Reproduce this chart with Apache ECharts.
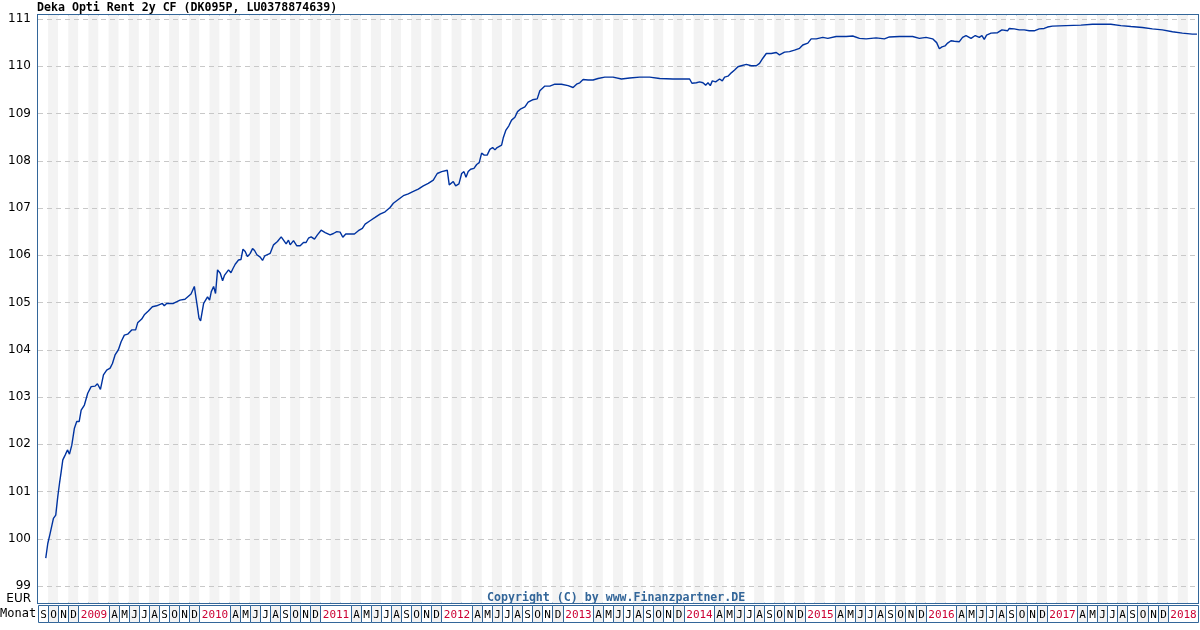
<!DOCTYPE html>
<html>
<head>
<meta charset="utf-8">
<title>Deka Opti Rent 2y CF</title>
<script src="https://cdn.jsdelivr.net/npm/echarts@6/dist/echarts.min.js"></script>
<style>
  html, body { margin: 0; padding: 0; background: #fff; }
  #main { width: 1200px; height: 630px; }
</style>
</head>
<body>
<div id="main"></div>
<script>
// x = Monate seit Anfang Sep 2008, y = Kurs in EUR
const months = [
  0.77, 0.97, 1.21, 1.53, 1.76, 1.96, 2.13, 2.30, 2.46, 2.69, 2.92, 3.12, 3.35, 3.61, 3.84, 4.08,
  4.28, 4.60, 4.93, 5.27, 5.66, 5.89, 6.19, 6.49, 6.81, 7.15, 7.38, 7.64, 7.97, 8.24, 8.56, 8.89,
  9.29, 9.68, 9.88, 10.28, 10.54, 10.94, 11.34, 11.76, 11.93, 12.33, 12.52, 12.75, 13.42, 13.58, 14.08, 14.57,
  14.73, 15.17, 15.33, 15.50, 15.62, 15.82, 15.96, 16.12, 16.42, 16.81, 17.01, 17.18, 17.41, 17.60, 17.80, 18.07,
  18.30, 18.50, 18.89, 19.13, 19.33, 19.55, 19.88, 20.12, 20.32, 20.54, 20.77, 21.04, 21.27, 21.47, 21.70, 22.03,
  22.26, 22.46, 22.69, 23.02, 23.35, 23.74, 24.11, 24.34, 24.60, 24.83, 25.00, 25.33, 25.66, 25.99, 26.32, 26.58,
  26.81, 27.08, 27.41, 27.70, 28.07, 28.47, 28.96, 29.29, 29.62, 29.95, 30.22, 30.51, 30.94, 31.37, 31.76, 32.16,
  32.43, 32.92, 33.42, 33.91, 34.41, 34.90, 35.23, 35.72, 36.22, 36.71, 37.21, 37.70, 38.20, 38.69, 39.19, 39.58,
  40.02, 40.57, 40.77, 41.17, 41.41, 41.73, 42.00, 42.23, 42.43, 42.65, 42.89, 43.22, 43.49, 43.74, 43.98, 44.24,
  44.53, 44.80, 45.07, 45.30, 45.52, 45.96, 46.12, 46.39, 46.68, 46.95, 47.28, 47.54, 47.87, 48.27, 48.59, 49.03,
  49.49, 49.75, 50.25, 50.74, 51.24, 51.90, 52.55, 53.05, 53.39, 53.71, 54.04, 54.53, 55.03, 55.52, 56.19, 57.01,
  57.84, 58.66, 59.65, 60.64, 61.63, 62.95, 64.60, 64.83, 65.27, 65.59, 65.92, 66.19, 66.42, 66.65, 66.85, 67.18,
  67.57, 67.84, 68.07, 68.40, 68.73, 69.06, 69.39, 69.72, 70.22, 70.71, 71.21, 71.53, 71.86, 72.20, 72.69, 73.19,
  73.51, 74.01, 74.50, 75.00, 75.50, 75.82, 76.32, 76.65, 77.15, 77.80, 78.30, 79.13, 80.12, 80.77, 81.44, 82.10,
  83.09, 83.91, 84.41, 85.40, 86.71, 87.38, 88.04, 88.69, 89.09, 89.36, 89.62, 89.92, 90.18, 90.51, 90.84, 91.34,
  91.66, 92.00, 92.50, 92.92, 93.32, 93.58, 93.81, 94.04, 94.48, 95.13, 95.56, 96.12, 96.29, 96.78, 97.28, 97.77,
  98.27, 98.76, 99.26, 99.75, 100.08, 100.57, 101.90, 103.39, 104.53, 106.36, 107.35, 108.34, 109.49, 110.48, 111.47, 112.47,
  113.45, 114.44, 114.90
]
const prices = [
  99.59, 99.90, 100.12, 100.43, 100.50, 100.89, 101.17, 101.42, 101.67, 101.77, 101.88, 101.79, 101.98, 102.34, 102.48, 102.48,
  102.72, 102.83, 103.08, 103.22, 103.23, 103.28, 103.16, 103.47, 103.57, 103.61, 103.71, 103.89, 104.00, 104.17, 104.31, 104.33,
  104.42, 104.42, 104.57, 104.65, 104.74, 104.82, 104.91, 104.93, 104.97, 104.98, 104.93, 104.98, 104.98, 105.02, 105.05, 105.07,
  105.11, 105.18, 105.21, 105.34, 105.16, 104.88, 104.67, 104.61, 104.98, 105.12, 105.05, 105.23, 105.34, 105.19, 105.69, 105.62,
  105.46, 105.58, 105.69, 105.63, 105.72, 105.81, 105.90, 105.91, 106.13, 106.08, 105.97, 106.04, 106.14, 106.10, 106.01, 105.96,
  105.89, 105.98, 106.01, 106.04, 106.22, 106.29, 106.39, 106.32, 106.24, 106.32, 106.22, 106.31, 106.20, 106.20, 106.27, 106.27,
  106.36, 106.39, 106.34, 106.43, 106.53, 106.48, 106.43, 106.46, 106.50, 106.49, 106.38, 106.45, 106.45, 106.45, 106.52, 106.57,
  106.66, 106.73, 106.80, 106.87, 106.92, 107.01, 107.10, 107.18, 107.26, 107.30, 107.35, 107.40, 107.47, 107.52, 107.59, 107.73,
  107.77, 107.80, 107.49, 107.56, 107.47, 107.51, 107.73, 107.77, 107.65, 107.77, 107.82, 107.84, 107.92, 107.96, 108.16, 108.12,
  108.12, 108.24, 108.28, 108.23, 108.28, 108.33, 108.48, 108.65, 108.74, 108.86, 108.92, 109.04, 109.10, 109.14, 109.24, 109.29,
  109.31, 109.48, 109.58, 109.58, 109.62, 109.62, 109.59, 109.55, 109.62, 109.65, 109.72, 109.71, 109.71, 109.74, 109.77, 109.77,
  109.73, 109.75, 109.77, 109.77, 109.74, 109.73, 109.73, 109.64, 109.65, 109.67, 109.65, 109.60, 109.65, 109.59, 109.69, 109.67,
  109.73, 109.69, 109.77, 109.79, 109.86, 109.92, 109.99, 110.01, 110.04, 110.01, 110.01, 110.06, 110.17, 110.27, 110.27, 110.29,
  110.24, 110.30, 110.31, 110.34, 110.38, 110.45, 110.49, 110.58, 110.58, 110.61, 110.59, 110.63, 110.63, 110.64, 110.59, 110.58,
  110.60, 110.58, 110.62, 110.63, 110.63, 110.59, 110.61, 110.58, 110.50, 110.37, 110.41, 110.43, 110.49, 110.54, 110.53, 110.52,
  110.61, 110.65, 110.59, 110.65, 110.61, 110.65, 110.57, 110.66, 110.70, 110.71, 110.77, 110.75, 110.80, 110.79, 110.77, 110.77,
  110.75, 110.75, 110.79, 110.80, 110.83, 110.85, 110.86, 110.87, 110.89, 110.89, 110.86, 110.84, 110.82, 110.79, 110.77, 110.73,
  110.70, 110.68, 110.68
]

// Monatsleiste unten
const monthLetters = ['J', 'F', 'M', 'A', 'M', 'J', 'J', 'A', 'S', 'O', 'N', 'D']
const startYear = 2008
const startMonth = 8 // September (0-basiert)
const monthCount = 115

const yMin = 99
const yMax = 111

const frameColor = '#336699'
const lineColor = '#0033a0'
const yearColor = '#cc0033'
const stripe = '#f3f3f3'

// Zellen: [von, bis, text, istJahr, grau]
const cells = []
for (let i = 0; i < monthCount; i++) {
  const m = (startMonth + i) % 12
  const y = startYear + Math.floor((startMonth + i) / 12)
  if (m === 0) {
    cells.push([i, Math.min(i + 3, monthCount), String(y), 1, 0])
  } else if (m === 1 || m === 2) {
    continue
  } else {
    cells.push([i, i + 1, monthLetters[m], 0, (m % 2 === 1) ? 1 : 0])
  }
}

const myChart = echarts.init(document.getElementById('main'), null, { renderer: 'canvas' })
const monoFont = '"DejaVu Sans Mono", monospace'

const option = {
  animation: false,
  backgroundColor: '#ffffff',
  title: {
    text: 'Deka Opti Rent 2y CF (DK095P, LU0378874639)',
    left: 37,
    top: 2,
    padding: 0,
    textStyle: { fontFamily: monoFont, fontSize: 11.6, fontWeight: 'bold', color: '#000' }
  },
  grid: [
    // Rahmen + Streifen
    { left: 38, right: 2, top: 15, height: 588, show: true, borderColor: frameColor, borderWidth: 2, backgroundColor: 'transparent', z: 0 },
    // Kurs
    { left: 38, right: 2, top: 19, height: 567 },
    // Monatsleiste
    { left: 38, right: 2, top: 605, height: 17 }
  ],
  xAxis: [
    {
      gridIndex: 0, type: 'value', min: 0, max: monthCount, interval: 1, z: 0,
      axisLine: { show: false }, axisTick: { show: false }, axisLabel: { show: false },
      splitLine: { show: false },
      splitArea: { show: true, areaStyle: { color: ['#ffffff', stripe] } }
    },
    {
      gridIndex: 1, type: 'value', min: 0, max: monthCount, show: false
    },
    {
      gridIndex: 2, type: 'value', min: 0, max: monthCount, show: false
    }
  ],
  yAxis: [
    { gridIndex: 0, type: 'value', min: 0, max: 1, show: false },
    {
      gridIndex: 1, type: 'value', min: yMin, max: yMax, interval: 1, z: 3,
      axisLine: { show: false }, axisTick: { show: false },
      axisLabel: { margin: 7, color: '#000', fontSize: 12, fontFamily: '"DejaVu Sans", sans-serif' },
      splitLine: { show: true, lineStyle: { color: '#c8c8c8', type: [5, 4], width: 1 } }
    },
    { gridIndex: 2, type: 'value', min: 0, max: 1, show: false }
  ],
  graphic: [
    {
      type: 'text', right: 1169, top: 593, z: 100,
      style: { text: 'EUR', font: '12px "DejaVu Sans", sans-serif', fill: '#000' }
    },
    {
      type: 'text', left: 0, top: 608, z: 100,
      style: { text: 'Monat', font: '12px "DejaVu Sans Mono", monospace', fill: '#000' }
    },
    {
      type: 'text', left: 487, top: 592, z: 100,
      style: { text: 'Copyright (C) by www.Finanzpartner.DE', font: 'bold 11.6px "DejaVu Sans Mono", monospace', fill: '#336699' }
    }
  ],
  series: [
    {
      name: 'Kurs',
      type: 'line',
      xAxisIndex: 1,
      yAxisIndex: 1,
      z: 5,
      symbol: 'none',
      lineStyle: { color: lineColor, width: 1.4 },
      data: months.map((m, i) => [m, prices[i]])
    },
    {
      name: 'Monate',
      type: 'custom',
      xAxisIndex: 2,
      yAxisIndex: 2,
      z: 5,
      encode: { x: [0, 1] },
      data: cells,
      renderItem: (params, api) => {
        const c = cells[params.dataIndex]
        const p0 = api.coord([c[0], 1])
        const p1 = api.coord([c[1], 0])
        const x0 = Math.round(p0[0]) + 0.5
        const x1 = Math.round(p1[0]) + 0.5
        const y0 = Math.round(p0[1]) + 0.5
        const y1 = Math.round(p1[1]) + 0.5
        return {
          type: 'group',
          children: [
            {
              type: 'rect',
              shape: { x: x0, y: y0, width: x1 - x0, height: y1 - y0 },
              style: { fill: c[4] ? stripe : '#ffffff', stroke: frameColor, lineWidth: 1 }
            },
            {
              type: 'text',
              style: {
                text: c[2],
                x: (x0 + x1) / 2,
                y: (y0 + y1) / 2 + 1,
                align: 'center',
                verticalAlign: 'middle',
                fill: c[3] ? yearColor : '#000',
                font: '11px "DejaVu Sans Mono", monospace'
              }
            }
          ]
        }
      }
    }
  ]
}

myChart.setOption(option)
</script>
</body>
</html>
